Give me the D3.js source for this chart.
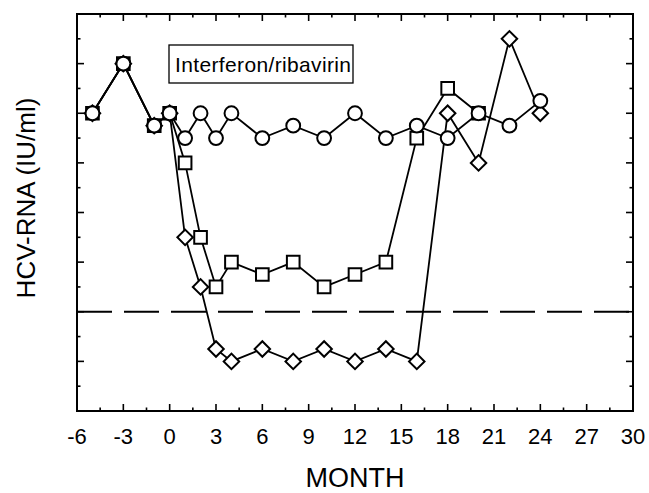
<!DOCTYPE html>
<html>
<head>
<meta charset="utf-8">
<script src="https://cdn.jsdelivr.net/npm/d3@7"></script>
<style>
  body { margin: 0; background: #fff; }
  text { font-family: "Liberation Sans", Arial, sans-serif; fill: #000; }
</style>
</head>
<body>
<div id="chart"></div>
<script>
// Data (months, HCV-RNA on an arbitrary log scale 0-8)
const circleMonths = [-5, -3, -1, 0, 1, 2, 3, 4, 6, 8, 10, 12, 14, 16, 18, 20, 22, 24];
const circleValues = [6, 7, 5.75, 6, 5.5, 6, 5.5, 6, 5.5, 5.75, 5.5, 6, 5.5, 5.75, 5.5, 6, 5.75, 6.25];
const squareMonths = [-5, -3, -1, 0, 1, 2, 3, 4, 6, 8, 10, 12, 14, 16, 18, 20];
const squareValues = [6, 7, 5.75, 6, 5, 3.5, 2.5, 3, 2.75, 3, 2.5, 2.75, 3, 5.5, 6.5, 6];
const diamondMonths = [-5, -3, -1, 0, 1, 2, 3, 4, 6, 8, 10, 12, 14, 16, 18, 20, 22, 24];
const diamondValues = [6, 7, 5.75, 6, 3.5, 2.5, 1.25, 1, 1.25, 1, 1.25, 1, 1.25, 1, 6, 5, 7.5, 6];
const detectionLimit = 2;
const xTicks = [-6, -3, 0, 3, 6, 9, 12, 15, 18, 21, 24, 27, 30];
const legendLabel = "Interferon/ribavirin";

const width = 649;
const height = 493;
const margin = { top: 14, right: 16, bottom: 82, left: 77 };

const svg = d3
  .select("#chart")
  .append("svg")
  .attr("width", width)
  .attr("height", height);

const x = d3.scaleLinear().domain([-6, 30]).range([margin.left, width - margin.right]);
const y = d3.scaleLinear().domain([0, 8]).range([height - margin.bottom, margin.top]);

const x0 = x.range()[0], x1 = x.range()[1];
const y0 = y.range()[0], y1 = y.range()[1];

// tick helpers: major + minor, all pointing inward
const xMinor = d3.range(-6, 30.01, 1.5);
const yMinor = d3.range(0, 8.01, 0.5);
const ticksG = svg.append("g").attr("stroke", "#000").attr("stroke-width", 1.6);

xMinor.forEach((m) => {
  const len = m % 3 === 0 ? 7 : 3.5;
  ticksG.append("line").attr("x1", x(m)).attr("x2", x(m)).attr("y1", y0).attr("y2", y0 - len);
  ticksG.append("line").attr("x1", x(m)).attr("x2", x(m)).attr("y1", y1).attr("y2", y1 + len);
});
yMinor.forEach((v) => {
  const len = v % 1 === 0 ? 7 : 3.5;
  ticksG.append("line").attr("y1", y(v)).attr("y2", y(v)).attr("x1", x0).attr("x2", x0 + len);
  ticksG.append("line").attr("y1", y(v)).attr("y2", y(v)).attr("x1", x1).attr("x2", x1 - len);
});

// x tick labels
svg
  .append("g")
  .selectAll("text")
  .data(xTicks)
  .enter()
  .append("text")
  .attr("x", (d) => x(d))
  .attr("y", y0 + 33)
  .attr("text-anchor", "middle")
  .attr("font-size", "22px")
  .text((d) => d);

// detection limit dashed line
svg
  .append("line")
  .attr("x1", x0)
  .attr("x2", x1)
  .attr("y1", y(detectionLimit))
  .attr("y2", y(detectionLimit))
  .attr("stroke", "#000")
  .attr("stroke-width", 2)
  .attr("stroke-dasharray", "35,12");

const series = [
  { months: squareMonths, values: squareValues, shape: "square" },
  { months: diamondMonths, values: diamondValues, shape: "diamond" },
  { months: circleMonths, values: circleValues, shape: "circle" },
];

const line = d3
  .line()
  .x((d) => x(d[0]))
  .y((d) => y(d[1]));

// lines first
series.forEach((s) => {
  const pts = s.months.map((m, i) => [m, s.values[i]]);
  svg
    .append("path")
    .datum(pts)
    .attr("d", line)
    .attr("fill", "none")
    .attr("stroke", "#000")
    .attr("stroke-width", 1.8);
});

// markers on top (hollow, white filled)
const symbolFor = {
  square: d3.symbol().type(d3.symbolSquare).size(160),
  diamond: d3.symbol().type(d3.symbolSquare).size(120),
  circle: d3.symbol().type(d3.symbolCircle).size(150),
};
series.forEach((s) => {
  const pts = s.months.map((m, i) => [m, s.values[i]]);
  svg
    .append("g")
    .selectAll("path")
    .data(pts)
    .enter()
    .append("path")
    .attr("d", symbolFor[s.shape]())
    .attr("transform", (d) =>
      `translate(${x(d[0])},${y(d[1])})` + (s.shape === "diamond" ? " rotate(45)" : "")
    )
    .attr("fill", "#fff")
    .attr("stroke", "#000")
    .attr("stroke-width", 2);
});

// frame
svg
  .append("rect")
  .attr("x", x0)
  .attr("y", y1)
  .attr("width", x1 - x0)
  .attr("height", y0 - y1)
  .attr("fill", "none")
  .attr("stroke", "#000")
  .attr("stroke-width", 2);

// legend box
const legend = svg.append("g").attr("transform", "translate(169,45)");
legend
  .append("rect")
  .attr("width", 184)
  .attr("height", 38)
  .attr("fill", "#fff")
  .attr("stroke", "#000")
  .attr("stroke-width", 1.3);
legend
  .append("text")
  .attr("x", 6)
  .attr("y", 27)
  .attr("font-size", "21px")
  .attr("textLength", 176)
  .text(legendLabel);

// axis titles
svg
  .append("text")
  .attr("x", (x0 + x1) / 2)
  .attr("y", 487)
  .attr("text-anchor", "middle")
  .attr("font-size", "27px")
  .text("MONTH");

svg
  .append("text")
  .attr("transform", "translate(35,198) rotate(-90)")
  .attr("text-anchor", "middle")
  .attr("font-size", "26px")
  .text("HCV-RNA (IU/ml)");
</script>
</body>
</html>
